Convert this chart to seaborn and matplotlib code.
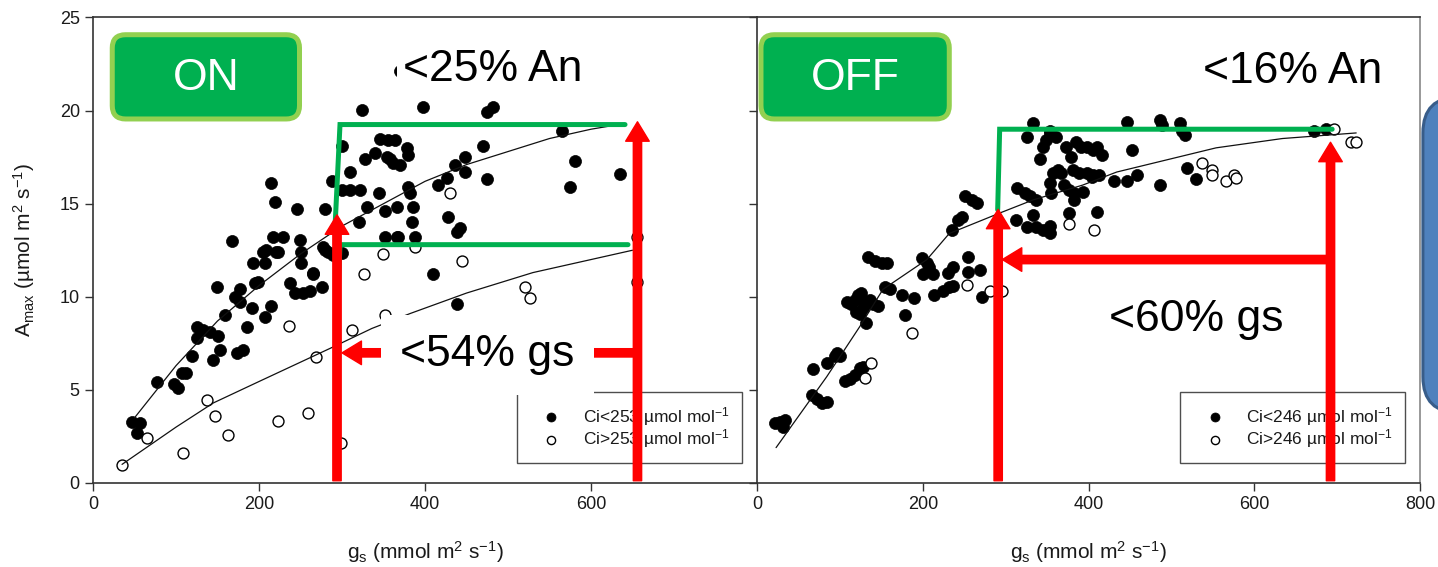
import numpy as np
import pandas as pd
import matplotlib
matplotlib.use("Agg")
import matplotlib.pyplot as plt
from matplotlib.patches import FancyBboxPatch
import seaborn as sns

# --- dane: panel ON (lewy) ---
on_dark_gs = [47, 57, 53, 77, 98, 102, 107, 112, 119, 125, 125, 133, 141, 151, 145, 153, 149, 159,
              171, 177, 173, 181, 186, 191, 193, 207, 195, 199, 205, 215, 207, 237, 243, 253, 261,
              276, 265, 251, 251, 221, 279, 300, 324, 300, 310, 288, 300, 310, 322, 328, 340, 346,
              356, 364, 344, 354, 362, 330, 320, 352, 366, 352, 366, 279, 246, 215, 219, 167, 217,
              229, 209, 223, 249, 265, 277, 283, 289, 177, 398, 475, 482, 565, 378, 380, 358, 370,
              470, 448, 436, 581, 635, 475, 448, 416, 426, 575, 380, 382, 386, 384, 428, 438, 442,
              368, 388, 410, 438, 370]
on_dark_an = [3.3, 3.2, 2.7, 5.4, 5.3, 5.1, 5.9, 5.9, 6.8, 7.8, 8.4, 8.2, 8.1, 7.9, 6.6, 7.15, 10.5, 9.0,
              10.0, 9.7, 7.0, 7.15, 8.4, 9.4, 11.8, 11.8, 10.75, 10.8, 12.4, 9.5, 8.9, 10.75, 10.2, 10.2, 10.3,
              10.5, 11.3, 11.8, 12.4, 12.4, 12.5, 12.35, 20.05, 18.1, 16.7, 16.2, 15.75, 15.75, 15.75, 17.4, 17.7, 18.5,
              18.4, 18.4, 15.6, 17.5, 17.2, 14.8, 14.0, 14.6, 14.8, 13.2, 13.2, 14.7, 14.7, 16.1, 15.1, 13.0, 13.2,
              13.2, 12.5, 12.4, 13.05, 11.2, 12.7, 12.4, 12.25, 10.4, 20.2, 19.95, 20.2, 18.9, 18.0, 17.6, 17.4, 17.1,
              18.1, 17.5, 17.1, 17.3, 16.6, 16.3, 16.7, 16.0, 16.4, 15.9, 15.9, 15.6, 14.8, 14.0, 14.3, 13.5, 13.7,
              13.2, 13.2, 11.2, 9.6, 22.1]
on_open_gs = [35, 65, 108, 137, 147, 163, 223, 259, 236, 269, 299, 326, 350, 312, 352, 445, 520, 527,
              656, 655, 388, 430]
on_open_an = [0.97, 2.4, 1.6, 4.45, 3.6, 2.6, 3.35, 3.75, 8.45, 6.75, 2.15, 11.2, 12.3, 8.2, 9.0, 11.9,
              10.5, 9.95, 10.8, 13.2, 12.7, 15.6]
on_fit_dark_gs = [50, 100, 150, 200, 250, 300, 350, 400, 450, 500, 550, 600, 640]
on_fit_dark_an = [3.5, 6.3, 8.7, 10.6, 12.3, 13.8, 15.0, 16.2, 17.1, 17.8, 18.5, 19.0, 19.3]
on_fit_open_gs = [35, 100, 145, 200, 289, 336, 382, 450, 530, 600, 650]
on_fit_open_an = [1.0, 3.0, 4.3, 5.45, 7.3, 8.3, 9.1, 10.2, 11.3, 12.0, 12.5]

# --- dane: panel OFF (prawy) ---
off_dark_gs = [22, 28, 31, 34, 67.5, 66, 72, 78, 84, 84, 96, 100, 94, 106, 112, 118, 124, 128, 108, 114,
               118, 122, 126, 128, 132, 136, 140, 146, 120, 124, 132, 134, 142, 151, 157, 154, 160, 175,
               190, 179, 199, 205, 208, 200, 212, 214, 224, 232, 236, 230, 236, 254, 254, 269, 272, 235,
               242, 247, 251, 260, 266, 313, 326, 337, 345, 353, 314, 323, 329, 337, 333, 326, 333, 345,
               341, 349, 353, 357, 363, 367, 355, 353, 361, 373, 379, 385, 391, 398, 405, 381, 389, 398,
               405, 371, 377, 383, 393, 377, 410, 416, 413, 404, 383, 410, 353, 431, 446, 459, 453, 447,
               486, 486, 489, 510, 513, 516, 519, 530, 672, 687, 353]
off_dark_an = [3.2, 3.3, 3.0, 3.4, 6.1, 4.7, 4.5, 4.3, 4.35, 6.45, 7.0, 6.8, 6.8, 5.5, 5.6, 5.8, 6.2, 6.25, 9.7, 9.6,
               9.85, 10.1, 10.2, 9.4, 9.7, 9.85, 9.6, 9.5, 9.2, 9.1, 8.6, 12.15, 11.9, 11.8, 11.8, 10.5, 10.4, 10.1,
               9.95, 9.0, 12.1, 11.8, 11.6, 11.2, 11.2, 10.1, 10.3, 10.5, 10.6, 11.3, 11.6, 12.15, 11.35, 11.45, 10.0, 13.6,
               14.1, 14.3, 15.4, 15.2, 15.05, 14.1, 13.75, 13.75, 13.6, 13.4, 15.85, 15.6, 15.4, 15.2, 14.4, 18.6, 19.35, 18.05,
               17.4, 18.4, 16.1, 16.65, 16.8, 16.65, 15.6, 18.8, 18.6, 18.05, 17.5, 18.3, 18.05, 18.05, 17.9, 16.8, 16.65, 16.65,
               16.55, 16.0, 15.75, 15.6, 15.65, 14.5, 18.05, 17.6, 16.55, 16.45, 15.2, 14.55, 13.8, 16.2, 16.2, 16.55, 17.9, 19.4,
               16.0, 19.5, 19.25, 19.35, 18.9, 18.7, 16.9, 16.3, 18.9, 19.0, 18.9]
off_open_gs = [253, 281, 296, 187, 137, 130, 377, 407, 537, 549, 549, 566, 576, 578, 696, 717, 723]
off_open_an = [10.65, 10.3, 10.3, 8.05, 6.45, 5.65, 13.9, 13.6, 17.2, 16.8, 16.55, 16.2, 16.55, 16.4,
               19.0, 18.3, 18.3]
off_fit_gs = [23, 84, 124, 152, 205, 232, 293, 333, 393, 434, 554, 634, 723]
off_fit_an = [1.9, 5.7, 8.4, 10.4, 12.0, 13.4, 14.5, 15.2, 16.0, 16.7, 18.0, 18.5, 18.8]

# progi zaznaczone strzałkami
on_gs_low, on_gs_high = 295, 656
on_an_high, on_an_low = 19.25, 12.8
off_gs_low, off_gs_high = 291, 692
off_an_high = 19.0

RED = "#FF0000"
GREEN = "#00B050"
LIGHT_GREEN = "#92D050"

sns.set_style("ticks")
plt.rcParams["font.family"] = ["Liberation Sans", "DejaVu Sans"]
plt.rcParams["mathtext.default"] = "regular"

fig = plt.figure(figsize=(14.38, 5.67), dpi=100)
ax1 = fig.add_axes([0.06467, 0.14815, 0.46175, 0.8210])
ax2 = fig.add_axes([0.52643, 0.14815, 0.46106, 0.8210])


def draw_panel(ax, dark_gs, dark_an, open_gs, open_an, fits, ci):
    dark = pd.DataFrame({"gs": dark_gs, "an": dark_an})
    opn = pd.DataFrame({"gs": open_gs, "an": open_an})
    sns.scatterplot(data=dark, x="gs", y="an", ax=ax, color="black", edgecolor="black",
                    linewidth=0.5, s=75, zorder=2, label=f"Ci<{ci} µmol mol$^{{-1}}$")
    sns.scatterplot(data=opn, x="gs", y="an", ax=ax, color="white", edgecolor="black",
                    linewidth=1.0, s=62, zorder=2, label=f"Ci>{ci} µmol mol$^{{-1}}$")
    for fx, fy in fits:
        sns.lineplot(x=fx, y=fy, ax=ax, color="#111111", lw=0.9, estimator=None,
                     sort=False, zorder=3)
    ax.set_xlim(0, 800)
    ax.set_ylim(0, 25)
    ax.set_yticks(range(0, 26, 5))
    for s in ax.spines.values():
        s.set_color("#333333")
        s.set_linewidth(1.2)
    ax.tick_params(direction="out", length=6, width=1, color="#333333",
                   labelsize=13, labelcolor="#1a1a1a")
    ax.set_xlabel("g$_s$ (mmol m$^2$ s$^{-1}$)", fontsize=15, color="#1a1a1a", labelpad=19)
    leg = ax.legend(loc="lower right", fontsize=12.5, frameon=True, fancybox=False,
                    markerscale=0.75, handlelength=2.5, handletextpad=0.55, labelspacing=0.0,
                    borderpad=0.75, borderaxespad=0, bbox_to_anchor=(0.978, 0.042))
    leg.get_frame().set_edgecolor("#222222")
    leg.get_frame().set_linewidth(1.0)
    for t in leg.get_texts():
        t.set_color("#1a1a1a")
    leg.set_zorder(5)


draw_panel(ax1, on_dark_gs, on_dark_an, on_open_gs, on_open_an,
           [(on_fit_dark_gs, on_fit_dark_an), (on_fit_open_gs, on_fit_open_an)], 253)
draw_panel(ax2, off_dark_gs, off_dark_an, off_open_gs, off_open_an,
           [(off_fit_gs, off_fit_an)], 246)

ax1.set_xticks([0, 200, 400, 600])
ax1.spines["right"].set_visible(False)
ax1.set_ylabel("A$_{max}$ (µmol m$^2$ s$^{-1}$)", fontsize=15, color="#1a1a1a", labelpad=16)
ax2.set_xticks([0, 200, 400, 600, 800])
ax2.set_yticklabels([])
ax2.set_ylabel("")
ax2.spines["right"].set_color("#888888")
ax2.set_zorder(1)


def arrow(ax, tip, start):
    ax.annotate("", xy=tip, xytext=start, zorder=7,
                arrowprops=dict(color=RED, width=6, headwidth=17, headlength=14))


def tag(ax, label, x0, x1):
    box = FancyBboxPatch((x0, 0.782), x1 - x0, 0.181,
                         boxstyle="round,pad=0,rounding_size=0.02", mutation_aspect=664 / 465,
                         transform=ax.transAxes, fc=GREEN, ec=LIGHT_GREEN, lw=3.6,
                         zorder=8, clip_on=False)
    ax.add_patch(box)
    ax.text((x0 + x1) / 2, 0.868, label, transform=ax.transAxes, ha="center", va="center",
            fontsize=32, color="white", zorder=9)


# panel ON
ax1.plot([291.6, 297.6, 641], [13.76, on_an_high, on_an_high], color=GREEN, lw=3.6, zorder=6,
         solid_joinstyle="miter")
ax1.plot([292.8, 297.6, 644.6], [7.31, on_an_low, on_an_low], color=GREEN, lw=3.6, zorder=6,
         solid_joinstyle="miter")
arrow(ax1, (on_gs_low - 1, 14.4), (on_gs_low - 1, 0.12))
arrow(ax1, (on_gs_high, 19.4), (on_gs_high, 0.12))
arrow(ax1, (on_gs_low + 5, 6.99), (on_gs_high, 6.99))
ax1.text(481, 22.2, "<25% An", ha="center", va="center", fontsize=32, color="black", zorder=8,
         bbox=dict(fc="white", ec="none", pad=4))
ax1.text(475, 6.88, "<54% gs", ha="center", va="center", fontsize=32, color="black", zorder=8,
         bbox=dict(fc="white", ec="none", pad=14))
tag(ax1, "ON", 0.029, 0.311)

# panel OFF
ax2.plot([290.4, 292.8, 694], [14.68, off_an_high, off_an_high], color=GREEN, lw=3.6, zorder=6,
         solid_joinstyle="miter")
arrow(ax2, (off_gs_low, 14.7), (off_gs_low, 0.12))
arrow(ax2, (off_gs_high, 18.3), (off_gs_high, 0.12))
arrow(ax2, (off_gs_low + 5, 12.0), (off_gs_high, 12.0))
ax2.text(646, 22.1, "<16% An", ha="center", va="center", fontsize=32, color="black", zorder=8)
ax2.text(530, 8.8, "<60% gs", ha="center", va="center", fontsize=32, color="black", zorder=8)
tag(ax2, "OFF", 0.006, 0.290)

# niebieski prostokąt przy prawej krawędzi
blue = FancyBboxPatch((0.9895, 0.272), 0.1, 0.557,
                      boxstyle="round,pad=0,rounding_size=0.025", mutation_aspect=1438 / 567,
                      transform=fig.transFigure, fc="#4F81BD", ec="#385D8A", lw=2.2, zorder=10)
fig.add_artist(blue)

fig.savefig("out.png", dpi=100)
